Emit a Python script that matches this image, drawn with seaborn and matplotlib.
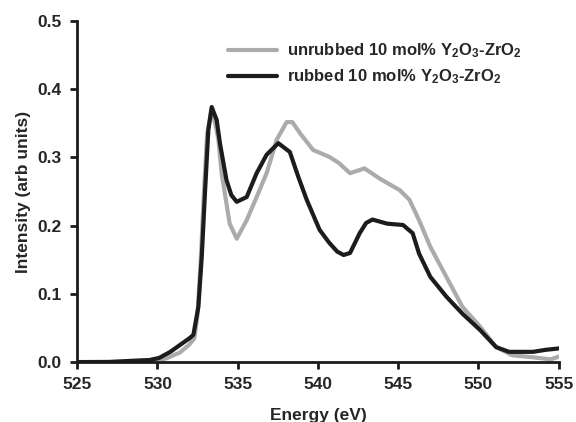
import numpy as np
import pandas as pd
import matplotlib
matplotlib.use("Agg")
import matplotlib.pyplot as plt
import seaborn as sns

# data
energy_unrubbed = [525.0, 528.5, 529.5, 530.5, 531.4, 532.0, 532.3, 532.5, 532.7, 532.9,
                   533.1, 533.35, 533.6, 533.8, 534.0, 534.5, 534.94, 535.56, 536.18, 536.8,
                   537.43, 538.05, 538.4, 538.9, 539.7, 540.7, 541.3, 542.0, 542.9, 543.85,
                   545.1, 545.7, 546.3, 547.0, 548.0, 549.0, 550.1, 551.1, 552.1, 553.4,
                   554.5, 555.0]
intensity_unrubbed = [0.000, 0.001, 0.002, 0.005, 0.014, 0.026, 0.035, 0.070, 0.150, 0.250,
                      0.335, 0.368, 0.350, 0.326, 0.277, 0.203, 0.181, 0.208, 0.242, 0.277,
                      0.326, 0.352, 0.352, 0.335, 0.311, 0.301, 0.292, 0.277, 0.284, 0.269,
                      0.252, 0.238, 0.208, 0.169, 0.125, 0.081, 0.052, 0.022, 0.010, 0.007,
                      0.004, 0.008]

energy_rubbed = [525.0, 527.0, 528.5, 529.5, 530.1, 530.8, 531.4, 532.0, 532.24, 532.55,
                 532.76, 532.97, 533.17, 533.38, 533.69, 533.9, 534.3, 534.6, 534.94, 535.56,
                 536.18, 536.8, 537.53, 538.25, 538.77, 539.3, 540.1, 540.7, 541.2, 541.6,
                 542.0, 542.6, 543.0, 543.4, 544.3, 545.3, 545.9, 546.3, 547.0, 548.0,
                 549.0, 550.1, 551.1, 551.9, 553.4, 554.2, 555.0]
intensity_rubbed = [0.000, 0.000, 0.002, 0.003, 0.006, 0.015, 0.025, 0.035, 0.040, 0.081,
                    0.154, 0.252, 0.340, 0.374, 0.355, 0.320, 0.267, 0.245, 0.235, 0.242,
                    0.277, 0.304, 0.321, 0.308, 0.272, 0.238, 0.194, 0.175, 0.162, 0.157,
                    0.160, 0.189, 0.204, 0.209, 0.203, 0.201, 0.189, 0.159, 0.125, 0.096,
                    0.071, 0.047, 0.022, 0.015, 0.015, 0.018, 0.020]

labels = ["unrubbed 10 mol% Y$_2$O$_3$-ZrO$_2$", "rubbed 10 mol% Y$_2$O$_3$-ZrO$_2$"]
colors = ["#ababab", "#1c1c1c"]

df = pd.concat([
    pd.DataFrame({"energy": energy_unrubbed, "intensity": intensity_unrubbed, "sample": labels[0]}),
    pd.DataFrame({"energy": energy_rubbed, "intensity": intensity_rubbed, "sample": labels[1]}),
])

sns.set_style("ticks")
plt.rcParams["font.family"] = ["Liberation Sans", "DejaVu Sans"]
plt.rcParams["font.weight"] = "bold"
plt.rcParams["mathtext.fontset"] = "custom"
plt.rcParams["mathtext.rm"] = "Liberation Sans:bold"
plt.rcParams["mathtext.it"] = "Liberation Sans:bold"
plt.rcParams["mathtext.bf"] = "Liberation Sans:bold"

fig = plt.figure(figsize=(5.76, 4.22), dpi=100)
ax = fig.add_axes([0.134, 0.142, 0.836, 0.808])

sns.lineplot(data=df, x="energy", y="intensity", hue="sample", hue_order=labels,
             palette=colors, linewidth=3.0, sort=False, ax=ax)
for line in ax.get_lines():
    line.set_solid_joinstyle("round")
    line.set_solid_capstyle("round")

ax.set_xlim(525, 555)
ax.set_ylim(0, 0.5)
ax.set_xticks(np.arange(525, 556, 5))
ax.set_yticks(np.arange(0, 0.51, 0.1))
ax.yaxis.set_major_formatter(matplotlib.ticker.FormatStrFormatter("%.1f"))
ax.tick_params(labelsize=12.5, width=2, length=5, color="#1c1c1c", pad=6)
for lab in ax.get_xticklabels() + ax.get_yticklabels():
    lab.set_fontweight("bold")

ax.set_xlabel("Energy (eV)", fontsize=12.5, fontweight="bold", labelpad=11)
ax.set_ylabel("Intensity (arb units)", fontsize=12.5, fontweight="bold", labelpad=5)

sns.despine(ax=ax)
for side in ["left", "bottom"]:
    ax.spines[side].set_linewidth(2)
    ax.spines[side].set_color("#1c1c1c")

ax.legend(title=None, frameon=False, fontsize=12, loc="upper left",
          bbox_to_anchor=(0.3, 0.96), handlelength=2.9, handletextpad=0.6,
          labelspacing=0.45, borderaxespad=0)
for line in ax.get_legend().get_lines():
    line.set_linewidth(3.0)

fig.savefig("out.png", dpi=100)
